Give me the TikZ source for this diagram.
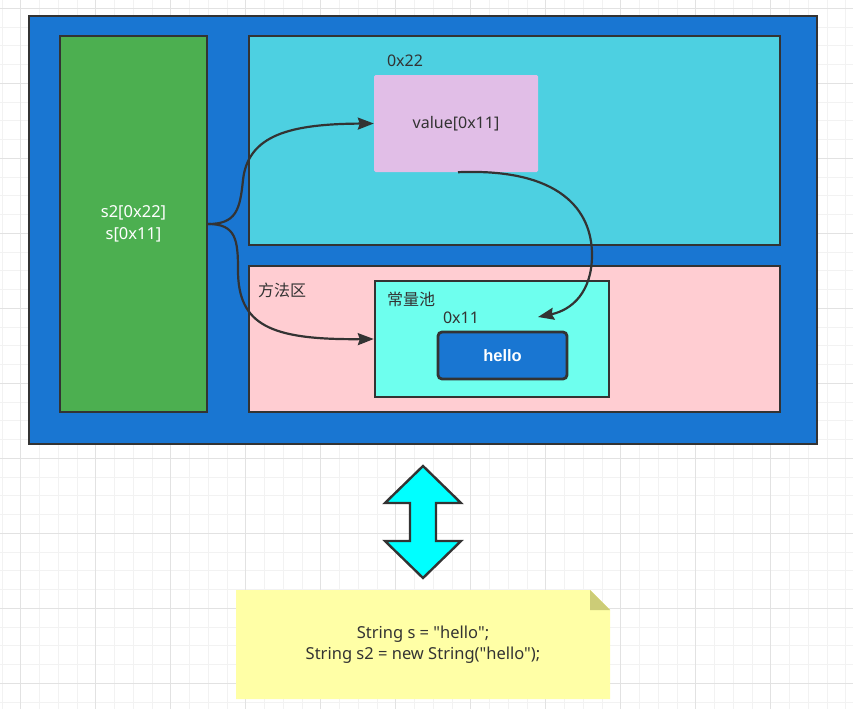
\documentclass[tikz,border=0pt]{standalone}
\usepackage{fontspec}
\setmainfont{Noto Sans}[Ligatures=TeXOff]
\newfontfamily\cjk{Noto Sans CJK SC}
\newfontfamily\hellofont{Liberation Sans}
\usetikzlibrary{arrows.meta}
\definecolor{outerblue}{HTML}{1976D2}
\definecolor{stackgreen}{HTML}{4CAF50}
\definecolor{heapcyan}{HTML}{4DD0E1}
\definecolor{objpurple}{HTML}{E1BEE7}
\definecolor{methodpink}{HTML}{FFCDD2}
\definecolor{poolcyan}{HTML}{6EFFEE}
\definecolor{notefill}{HTML}{FFFFA6}
\definecolor{notefold}{HTML}{CCCC77}
\definecolor{dblarrow}{HTML}{00FFFF}
\definecolor{ink}{HTML}{333333}
\definecolor{gridmajor}{HTML}{E2E2E2}
\definecolor{gridminor}{HTML}{F2F2F2}
\tikzset{
  box/.style={draw=ink, line width=2.4pt, rectangle, inner sep=0pt},
  lbl/.style={text=ink, font=\fontsize{16}{21}\selectfont, inner sep=0pt},
  conn/.style={draw=ink, line width=2.2pt, -{Stealth[length=16pt,width=12pt,inset=2pt]}},
}
\begin{document}
\begin{tikzpicture}[x=1pt,y=-1pt]
\useasboundingbox (0,0) rectangle (853,709);
\fill[white] (0,0) rectangle (853,709);
% grid
\foreach \i in {0,...,45} {
  \draw[gridminor, line width=0.8pt] ({1.95+18.75*\i},0) -- ++(0,709);
}
\foreach \i in {0,...,38} {
  \draw[gridminor, line width=0.8pt] (0,{8.3-18.75+18.75*\i}) -- ++(853,0);
}
\foreach \i in {0,...,11} {
  \draw[gridmajor, line width=1pt] ({20.7+75*(\i-1)},0) -- ++(0,709);
}
\foreach \i in {0,...,10} {
  \draw[gridmajor, line width=1pt] (0,{8.3+75*\i}) -- ++(853,0);
}
% main containers
\node[box, fill=outerblue, minimum width=788pt, minimum height=428pt] (outer) at (423,230) {};
\node[box, fill=stackgreen, minimum width=147pt, minimum height=376pt, text=white,
      align=center, font=\fontsize{16.5}{22}\selectfont] (stack) at (133.5,224) {s2[0x22]\\s[0x11]};
\node[box, fill=heapcyan, minimum width=531pt, minimum height=209pt] (heap) at (514.5,140.5) {};
\node[rectangle, fill=objpurple, rounded corners=1.5pt, minimum width=164pt, minimum height=97pt, text=ink,
      font=\fontsize{16}{21}\selectfont] (obj) at (456,123.5) {value[0x11]};
\node[lbl] (objaddr) at (405,61) {0x22};
\node[box, fill=methodpink, minimum width=531pt, minimum height=146pt] (method) at (514.5,339) {};
\node[lbl] (methodlbl) at (282,290) {\cjk 方法区};
\node[box, fill=poolcyan, minimum width=234pt, minimum height=116pt] (pool) at (492,339) {};
\node[lbl] (poollbl) at (411,299) {\cjk 常量池};
\node[lbl] (helloaddr) at (461,318) {0x11};
\node[box, fill=outerblue, line width=2.8pt, rounded corners=4pt, minimum width=129pt, minimum height=47pt, text=white,
      font=\hellofont\fontsize{16.5}{21}\selectfont\bfseries] (hello) at (502.5,355.5) {hello};
% connectors
\coordinate (poolin) at (538,317);
\draw[conn] (stack.east) .. controls (236,224) and (240,210) .. (243,180)
            .. controls (248,135) and (290,124) .. (obj.west);
\draw[conn] (stack.east) .. controls (236,224) and (238,240) .. (238,270)
            .. controls (238,325) and (270,340) .. (pool.west);
\draw[conn] ([xshift=2pt]obj.south) .. controls (560,168) and (592,210) .. (592,255)
            .. controls (592,292) and (572,310) .. (poolin);
% double arrow
\draw[ink, line width=2.4pt, fill=dblarrow, line join=miter]
  (423,466) -- (461,503) -- (436,503) -- (436,541) -- (461,541) -- (423,578)
  -- (385,541) -- (410,541) -- (410,503) -- (385,503) -- cycle;
% note
\fill[notefill] (236,590) -- (590,590) -- (610,610) -- (610,699) -- (236,699) -- cycle;
\fill[notefold] (590,590) -- (610,610) -- (590,610) -- cycle;
\node[lbl, align=center, font=\fontsize{16.5}{21}\selectfont] (code) at (423,645)
  {String s = "hello";\\String s2 = new String("hello");};
\end{tikzpicture}
\end{document}
